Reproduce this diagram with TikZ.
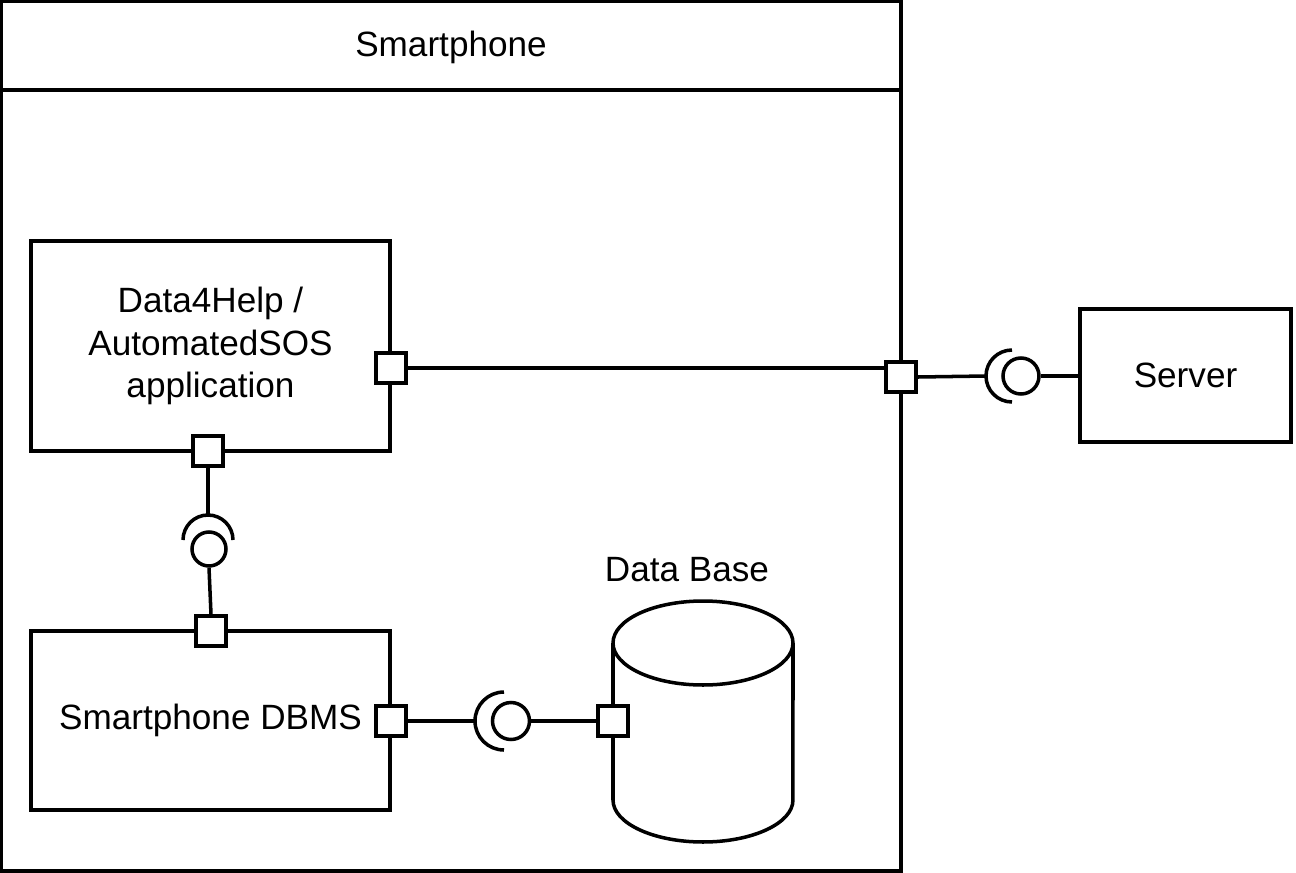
\documentclass[tikz,border=0pt]{standalone}
\usepackage{fontspec}
\setmainfont{Liberation Sans}
\usepackage{tikz}
\usetikzlibrary{positioning, calc}

\begin{document}
\begin{tikzpicture}[x=0.02cm, y=-0.02cm, line width=2pt,
                    font=\fontsize{20}{24}\selectfont,
                    comp/.style={draw, align=center, inner sep=0pt},
                    port/.style={draw, fill=white, minimum size=0.6cm, inner sep=0pt},
                    ball/.style={draw, circle, inner sep=0pt}]
    \useasboundingbox (0,0) rectangle (1296,873);

    % Nodes
    \node[draw, minimum width=18cm, minimum height=17.4cm, inner sep=0pt] (phone) at (451,436) {};
    \node (phonetitle) at (451,47) {Smartphone};
    \draw (phone.west |- 0,90) -- (phone.east |- 0,90);

    \node[comp, minimum width=7.18cm, minimum height=4.2cm] (app) at (210.5,346)
        {Data4Help /\\AutomatedSOS\\application};
    \node[comp, minimum width=7.18cm, minimum height=3.58cm] (dbms) at (210.5,720.5)
        {Smartphone DBMS};
    \node[comp, minimum width=4.22cm, minimum height=2.66cm] (server) at (1185.5,375.5) {Server};

    % Data base cylinder
    \draw[fill=white] (613,643) -- (613,800) arc[start angle=180, end angle=360, x radius=1.8cm, y radius=0.84cm]
        -- (793,643);
    \draw (703,643) ellipse [x radius=1.8cm, y radius=0.84cm];
    \node (dblabel) at (687,570) {Data Base};

    % Ports
    \node[port] (appE) at (391,368) {};
    \node[port] (appS) at (208,451) {};
    \node[port] (dbmsN) at (211,631) {};
    \node[port] (dbmsE) at (391,721) {};
    \node[port] (phoneE) at (901,377) {};
    \node[port] (dbW) at (613,721) {};

    % Interfaces
    \coordinate (sockSrv) at (986,376);
    \draw (sockSrv) arc[start angle=180, end angle=90, radius=0.52cm]
          (sockSrv) arc[start angle=180, end angle=270, radius=0.52cm];
    \node[ball, minimum size=0.72cm] (ballSrv) at (1021,376) {};

    \coordinate (sockDbms) at (208,515);
    \draw (sockDbms) arc[start angle=90, end angle=0, radius=0.5cm]
          (sockDbms) arc[start angle=90, end angle=180, radius=0.5cm];
    \node[ball, minimum size=0.68cm] (ballDbms) at (209,549) {};

    \coordinate (sockDb) at (475,721);
    \draw (sockDb) arc[start angle=180, end angle=90, radius=0.58cm]
          (sockDb) arc[start angle=180, end angle=270, radius=0.58cm];
    \node[ball, minimum size=0.74cm] (ballDb) at (511,721) {};

    % Connectors
    \draw (appE.east) -- (appE.east -| phoneE.west);
    \draw (phoneE.east) -- (sockSrv);
    \draw (ballSrv.east) -- (ballSrv.east -| server.west);
    \draw (appS.south) -- (sockDbms);
    \draw (ballDbms.south) -- (dbmsN.north);
    \draw (dbmsE.east) -- (sockDb);
    \draw (ballDb.east) -- (dbW.west);

\end{tikzpicture}
\end{document}
